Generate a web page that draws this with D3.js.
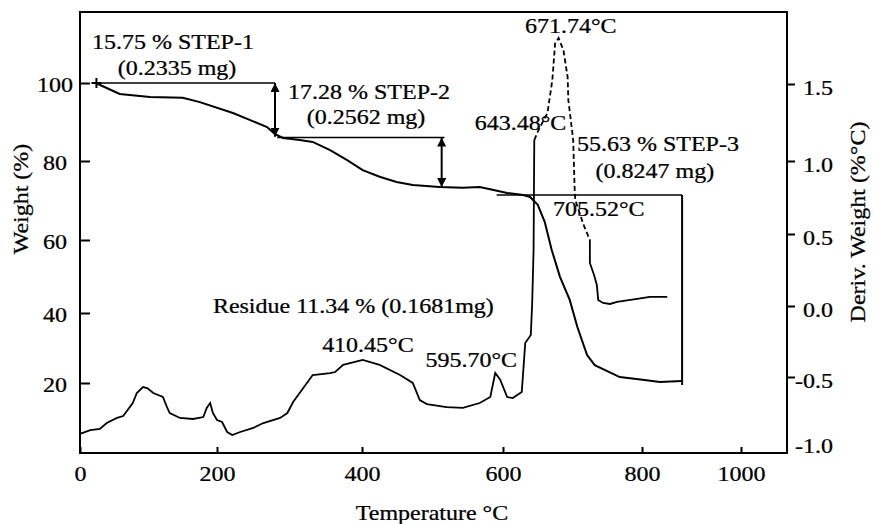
<!DOCTYPE html>
<html lang="en">
<head>
<meta charset="UTF-8">
<title>TGA / DTG curve</title>
<script src="https://cdn.jsdelivr.net/npm/d3@7"></script>
<style>
  html, body { margin: 0; background: #fff; }
  text { font-family: "Liberation Serif", "Times New Roman", serif; font-size: 20px; fill: #000; stroke: #000; stroke-width: 0.25px; }
  .axis line { stroke: #000; stroke-width: 2px; }
  .axis path { display: none; }
</style>
</head>
<body>
<div id="vis"></div>
<script>
// ---- data ----
var xTicks = [0, 200, 400, 600, 800, 1000];
var wTicks = [20, 40, 60, 80, 100];
var dTicks = [-1.0, -0.5, 0.0, 0.5, 1.0, 1.5];

// weight loss curve (TGA), temperature in C, weight in %
var tgaTemp   = [23, 58, 102, 150, 175, 222, 269, 280, 291, 314, 332, 356, 379, 401, 425, 449, 472, 510, 543, 567,
                 585, 606, 629, 639, 650, 660, 670, 682, 696, 707, 721, 732, 768, 801, 836, 881];
var tgaWeight = [100, 97.2, 96.4, 96.2, 95.1, 92.3, 88.7, 86.9, 85.9, 85.4, 84.9, 82.8, 80.3, 77.7, 76.0, 74.7, 73.9, 73.4, 73.2, 73.4,
                 72.7, 71.9, 71.4, 70.9, 68.9, 64.6, 57.3, 49.9, 43.6, 36.0, 28.0, 25.1, 21.7, 20.9, 20.3, 20.6];

// derivative weight curve (DTG), %/C
var dtgTemp  = [0, 15, 29, 39, 54, 63, 77, 83, 92, 98, 107, 121, 127, 131, 146, 165, 180, 185, 190, 194,
                200, 207, 214, 221, 232, 250, 264, 287, 297, 305, 314, 332, 356, 363, 374, 401, 425, 454, 472, 482,
                492, 520, 543, 567, 582, 589, 596, 606, 614, 627, 632, 640, 642, 644, 645,
                651, 664, 671, 675, 680, 687, 693, 694, 697, 701, 703, 704, 716, 725,
                725, 731, 735, 737, 744, 754, 764, 793, 816, 851];
var dtgValue = [-0.938, -0.908, -0.90, -0.854, -0.815, -0.80, -0.70, -0.623, -0.577, -0.585, -0.623, -0.654, -0.731, -0.777, -0.815, -0.823, -0.808, -0.738, -0.70, -0.777,
                -0.831, -0.846, -0.923, -0.946, -0.923, -0.892, -0.854, -0.815, -0.777, -0.692, -0.623, -0.486, -0.472, -0.465, -0.415, -0.380, -0.415, -0.486, -0.546, -0.677,
                -0.708, -0.731, -0.738, -0.70, -0.654, -0.472, -0.521, -0.654, -0.662, -0.615, -0.261, -0.204, 0.021, 0.389, 1.136,
                1.20, 1.312, 1.526, 1.766, 1.80, 1.72, 1.545, 1.396, 1.286, 1.136, 0.822, 0.733, 0.562, 0.458,
                0.299, 0.215, 0.146, 0.042, 0.021, 0.014, 0.028, 0.049, 0.063, 0.063];
var dashFrom = 645, dashTo = 725;   // peak part drawn dashed

// step markers (temperature, weight)
var stepLevels  = [{t1: 17.5, t2: 280, w: 100}, {t1: 283, t2: 517, w: 86}, {t1: 591, t2: 881, w: 71.4}];
var stepArrows  = [{t: 280, w1: 100, w2: 86.2}, {t: 513, w1: 86, w2: 73.4}];
var residueDrop = {t: 881, w1: 71.4, w2: 20.3};
var startPoint  = {t: 24, w: 100};

// annotation labels, anchored in temperature / weight units
var labelText   = ["15.75 % STEP-1", "(0.2335 mg)", "17.28 % STEP-2", "(0.2562 mg)", "671.74°C", "643.48°C",
                   "55.63 % STEP-3", "(0.8247 mg)", "705.52°C", "Residue 11.34 % (0.1681mg)", "410.45°C", "595.70°C"];
var labelTemp   = [17.5, 141.6, 298, 405.7, 631.7, 560, 706.5, 826, 672, 194, 345, 490];
var labelWeight = [108.5, 102, 95.9, 89.5, 112.8, 88, 82.5, 75.7, 66, 40, 28.9, 24.6];
var labelAnchor = ["start", "middle", "start", "middle", "start", "start", "start", "middle", "start", "start", "start", "start"];

// ---- layout ----
var SX = 1.2; // the scanned lettering is wider than the font
var svg = d3.select("#vis").append("svg")
    .attr("width", 874).attr("height", 524);

// the printed axes are not evenly spaced, so the scales are piecewise
var x  = d3.scaleLinear().domain([0, 200, 400, 600, 800, 1000, 1093]).range([80, 217, 362, 503, 642, 741, 787]);
var yL = d3.scaleLinear().domain([0, 20, 40, 60, 80, 100, 118]).range([453, 383, 313, 240, 161, 83, 12]);
var yR = d3.scaleLinear().domain([-1.08, -1, -0.5, 0, 0.5, 1, 1.5, 1.97]).range([453, 442, 377, 306, 234, 161, 84, 12]);

var defs = svg.append("defs");
defs.append("marker")
    .attr("id", "head")
    .attr("viewBox", "0 0 10 10")
    .attr("refX", 10).attr("refY", 5)
    .attr("markerUnits", "userSpaceOnUse")
    .attr("markerWidth", 9).attr("markerHeight", 9)
    .attr("orient", "auto-start-reverse")
  .append("path")
    .attr("d", "M0,0L10,5L0,10z")
    .attr("fill", "#000");

// axes
var xAxis = svg.append("g").attr("class", "axis")
    .attr("transform", "translate(0," + yL(0) + ")")
    .call(d3.axisBottom(x).tickValues(xTicks).tickSizeInner(-6).tickSizeOuter(0).tickPadding(14)
        .tickFormat(function(d){ return String(d); }));
xAxis.selectAll("text").attr("transform", "scale(" + SX + ",1)");

var lAxis = svg.append("g").attr("class", "axis")
    .attr("transform", "translate(" + x(0) + ",0)")
    .call(d3.axisLeft(yL).tickValues(wTicks).tickSizeInner(-10).tickSizeOuter(0));
lAxis.selectAll("text")
    .attr("x", 0).attr("dy", "0.42em")
    .attr("text-anchor", "middle")
    .attr("transform", "translate(-25,0) scale(" + SX + ",1)");

var rAxis = svg.append("g").attr("class", "axis")
    .attr("transform", "translate(" + x.range()[x.range().length - 1] + ",0)")
    .call(d3.axisRight(yR).tickValues(dTicks).tickSizeInner(8).tickSizeOuter(0)
        .tickFormat(function(d){ return d.toFixed(1); }));
rAxis.selectAll("text")
    .attr("x", 0).attr("dy", "0.5em")
    .attr("text-anchor", "end")
    .attr("transform", "translate(46,0) scale(" + SX + ",1)");
rAxis.selectAll(".tick").filter(function(d){ return d === -1; }).select("line").remove();

// frame
svg.append("rect")
    .attr("x", x(0)).attr("y", yL.range()[yL.range().length - 1])
    .attr("width", x.range()[x.range().length - 1] - x(0))
    .attr("height", yL(0) - yL.range()[yL.range().length - 1])
    .attr("fill", "none").attr("stroke", "#000").attr("stroke-width", 2);

// axis titles
svg.append("text")
    .attr("text-anchor", "middle")
    .attr("transform", "translate(432,520) scale(" + SX + ",1)")
    .text("Temperature °C");
svg.append("text")
    .attr("text-anchor", "middle")
    .attr("transform", "translate(28,199) rotate(-90) scale(" + SX + ",1)")
    .text("Weight (%)");
svg.append("text")
    .attr("text-anchor", "middle")
    .attr("transform", "translate(865,222) rotate(-90) scale(" + SX + ",1)")
    .text("Deriv. Weight (%°C)");

// curves
var tga = tgaTemp.map(function(t, i){ return [t, tgaWeight[i]]; });
var dtg = dtgTemp.map(function(t, i){ return [t, dtgValue[i]]; });

var lineL = d3.line().x(function(d){ return x(d[0]); }).y(function(d){ return yL(d[1]); });
var lineR = d3.line().x(function(d){ return x(d[0]); }).y(function(d){ return yR(d[1]); });

svg.append("path").datum(tga)
    .attr("d", lineL).attr("fill", "none").attr("stroke", "#000").attr("stroke-width", 2);

var iStart = dtgTemp.indexOf(dashFrom);
var iEnd = dtgTemp.indexOf(dashTo);
var dtgParts = [
    {pts: dtg.slice(0, iStart + 1), dash: null},
    {pts: dtg.slice(iStart, iEnd + 1), dash: "5,3"},
    {pts: dtg.slice(iEnd), dash: null}
];
svg.selectAll(".dtg").data(dtgParts).enter().append("path")
    .attr("class", "dtg")
    .attr("d", function(d){ return lineR(d.pts); })
    .attr("fill", "none").attr("stroke", "#000").attr("stroke-width", 1.8)
    .attr("stroke-dasharray", function(d){ return d.dash; });

// step construction lines
svg.selectAll(".lvl").data(stepLevels).enter().append("line")
    .attr("class", "lvl")
    .attr("x1", function(d){ return x(d.t1); }).attr("x2", function(d){ return x(d.t2); })
    .attr("y1", function(d){ return yL(d.w); }).attr("y2", function(d){ return yL(d.w); })
    .attr("stroke", "#000").attr("stroke-width", 1.5);

svg.selectAll(".arr").data(stepArrows).enter().append("line")
    .attr("class", "arr")
    .attr("x1", function(d){ return x(d.t); }).attr("x2", function(d){ return x(d.t); })
    .attr("y1", function(d){ return yL(d.w1); }).attr("y2", function(d){ return yL(d.w2); })
    .attr("stroke", "#000").attr("stroke-width", 2)
    .attr("marker-start", "url(#head)").attr("marker-end", "url(#head)");

svg.append("line")
    .attr("x1", x(residueDrop.t)).attr("x2", x(residueDrop.t))
    .attr("y1", yL(residueDrop.w1)).attr("y2", yL(residueDrop.w2) + 3)
    .attr("stroke", "#000").attr("stroke-width", 2);

svg.append("path")
    .attr("transform", "translate(" + x(startPoint.t) + "," + yL(startPoint.w) + ")")
    .attr("d", "M-5,0H5M0,-5V5")
    .attr("stroke", "#000").attr("stroke-width", 2);

// annotations
labelText.forEach(function(t, i){
    svg.append("text")
        .attr("text-anchor", labelAnchor[i])
        .attr("transform", "translate(" + x(labelTemp[i]) + "," + yL(labelWeight[i]) + ") scale(" + SX + ",1)")
        .text(t);
});
</script>
</body>
</html>
